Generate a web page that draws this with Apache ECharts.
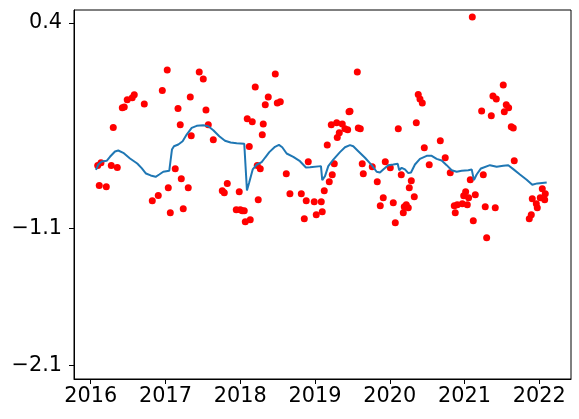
<!DOCTYPE html>
<html>
<head>
<meta charset="utf-8">
<script src="https://cdn.jsdelivr.net/npm/echarts@6/dist/echarts.min.js"></script>
<style>
  html, body { margin: 0; padding: 0; background: #fff; }
  #chart { width: 579px; height: 419px; }
</style>
</head>
<body>
<div id="chart"></div>
<script>
// observations (decimal year, value)
var dotYears = [
  2016.094, 2016.138, 2016.115, 2016.209, 2016.276, 2016.356, 2016.302, 2016.423, 2016.449, 2016.489,
  2016.556, 2016.583, 2016.717, 2017.024, 2016.958, 2017.168, 2017.198, 2017.131, 2017.212, 2017.305,
  2017.038, 2016.904, 2016.824, 2017.065, 2017.238, 2017.332, 2017.452, 2017.506, 2017.542, 2017.573,
  2017.345, 2017.640, 2017.827, 2017.760, 2017.787, 2017.987, 2017.947, 2018.001, 2018.054, 2018.027,
  2018.068, 2018.134, 2018.094, 2018.161, 2018.121, 2018.228, 2018.268, 2018.241, 2018.201, 2018.308,
  2018.295, 2018.335, 2018.375, 2018.469, 2018.496, 2018.536, 2018.616, 2018.665, 2018.817, 2018.883,
  2018.910, 2018.857, 2018.990, 2019.017, 2021.104, 2019.566, 2020.381, 2020.404, 2020.435, 2019.468,
  2019.455, 2019.218, 2019.290, 2019.365, 2019.401, 2019.437, 2019.325, 2019.298, 2019.579, 2019.606,
  2019.164, 2020.114, 2020.355, 2020.462, 2020.676, 2020.742, 2020.528, 2020.809, 2019.258, 2019.231,
  2019.191, 2019.124, 2019.632, 2019.646, 2019.766, 2019.940, 2020.007, 2019.833, 2020.154, 2020.288,
  2020.261, 2020.328, 2019.913, 2019.873, 2020.047, 2020.221, 2020.194, 2020.248, 2020.181, 2020.074,
  2019.084, 2019.097, 2021.229, 2021.358, 2021.380, 2021.425, 2021.518, 2021.558, 2021.590, 2021.532,
  2021.625, 2021.652, 2021.665, 2021.251, 2021.077, 2021.144, 2021.015, 2020.989, 2021.055, 2020.970,
  2021.037, 2020.903, 2020.863, 2020.876, 2021.117, 2021.277, 2021.411, 2021.296, 2022.040, 2022.080,
  2021.906, 2022.013, 2022.072, 2021.960, 2021.973, 2021.893, 2021.866
];
var dotValues = [
  -0.639, -0.620, -0.785, -0.794, -0.639, -0.654, -0.363, -0.219, -0.212, -0.159,
  -0.146, -0.124, -0.190, 0.058, -0.093, -0.224, -0.343, -0.663, -0.736, -0.802,
  -0.802, -0.858, -0.896, -0.984, -0.955, -0.139, 0.043, -0.008, -0.234, -0.343,
  -0.423, -0.452, -0.770, -0.824, -0.838, -0.831, -0.962, -0.962, -0.969, -0.969,
  -1.049, -1.035, -0.299, -0.321, -0.501, -0.639, -0.663, -0.889, -0.066, -0.336,
  -0.416, -0.197, -0.139, 0.029, -0.183, -0.175, -0.700, -0.845, -0.845, -0.896,
  -0.612, -1.028, -0.904, -0.998, 0.444, 0.043, -0.122, -0.154, -0.183, -0.244,
  -0.248, -0.343, -0.328, -0.336, -0.372, -0.379, -0.401, -0.435, -0.365, -0.372,
  -0.489, -0.372, -0.328, -0.510, -0.459, -0.583, -0.634, -0.692, -0.627, -0.707,
  -0.758, -0.824, -0.627, -0.700, -0.649, -0.612, -0.656, -0.758, -0.707, -0.751,
  -0.802, -0.867, -0.875, -0.933, -0.911, -0.926, -0.940, -0.947, -0.984, -1.057,
  -0.904, -0.977, -0.241, -0.277, -0.132, -0.154, -0.052, -0.197, -0.219, -0.248,
  -0.357, -0.365, -0.605, -0.707, -0.743, -0.853, -0.831, -0.860, -0.875, -0.918,
  -0.926, -0.926, -0.933, -0.984, -1.042, -0.940, -0.947, -1.166, -0.809, -0.845,
  -0.882, -0.875, -0.889, -0.918, -0.947, -0.998, -1.028
];

// rolling mean
var lineYears = [
  2016.071, 2016.102, 2016.147, 2016.214, 2016.258, 2016.325, 2016.369, 2016.436, 2016.526, 2016.623,
  2016.682, 2016.740, 2016.802, 2016.869, 2016.917, 2016.971, 2017.051, 2017.067, 2017.087, 2017.114,
  2017.172, 2017.230, 2017.284, 2017.351, 2017.418, 2017.506, 2017.573, 2017.640, 2017.720, 2017.796,
  2017.872, 2017.953, 2018.054, 2018.073, 2018.090, 2018.121, 2018.167, 2018.220, 2018.287, 2018.331,
  2018.389, 2018.465, 2018.518, 2018.562, 2018.621, 2018.710, 2018.799, 2018.879, 2018.933, 2019.080,
  2019.097, 2019.134, 2019.178, 2019.245, 2019.334, 2019.401, 2019.468, 2019.512, 2019.579, 2019.669,
  2019.758, 2019.825, 2019.869, 2019.913, 2019.980, 2020.047, 2020.106, 2020.127, 2020.159, 2020.203,
  2020.248, 2020.284, 2020.337, 2020.404, 2020.494, 2020.561, 2020.627, 2020.694, 2020.761, 2020.828,
  2020.895, 2020.962, 2021.050, 2021.096, 2021.126, 2021.162, 2021.220, 2021.340, 2021.430, 2021.518,
  2021.585, 2021.652, 2021.741, 2021.831, 2021.906, 2021.973, 2022.099
];
var lineValues = [
  -0.671, -0.632, -0.610, -0.605, -0.576, -0.537, -0.530, -0.547, -0.588, -0.625,
  -0.659, -0.698, -0.712, -0.722, -0.705, -0.685, -0.678, -0.676, -0.523, -0.499,
  -0.486, -0.462, -0.414, -0.365, -0.350, -0.346, -0.353, -0.382, -0.426, -0.459,
  -0.472, -0.477, -0.481, -0.481, -0.821, -0.761, -0.668, -0.634, -0.615, -0.583,
  -0.542, -0.503, -0.489, -0.506, -0.552, -0.576, -0.608, -0.654, -0.652, -0.644,
  -0.746, -0.717, -0.644, -0.596, -0.542, -0.506, -0.491, -0.499, -0.535, -0.583,
  -0.637, -0.685, -0.690, -0.668, -0.637, -0.632, -0.627, -0.674, -0.656, -0.668,
  -0.695, -0.690, -0.632, -0.591, -0.569, -0.569, -0.591, -0.603, -0.637, -0.674,
  -0.685, -0.678, -0.674, -0.668, -0.746, -0.705, -0.661, -0.637, -0.649, -0.642,
  -0.637, -0.666, -0.705, -0.743, -0.780, -0.770, -0.763
];

var xTicks = [2016, 2017, 2018, 2019, 2020, 2021, 2022];
var yTicks = [0.4, -1.1, -2.1];

var dots = [];
for (var i = 0; i < dotYears.length; i++) {
    dots.push([dotYears[i], dotValues[i]]);
}
var line = [];
for (var j = 0; j < lineYears.length; j++) {
    line.push([lineYears[j], lineValues[j]]);
}

var labelFont = {
    color: '#000',
    fontFamily: 'DejaVu Sans',
    fontSize: 20.8
};

var myChart = echarts.init(document.getElementById('chart'));
myChart.setOption({
    animation: false,
    backgroundColor: '#fff',
    grid: {
        left: 74, top: 10, right: 8, bottom: 40,
        show: true,
        borderColor: '#000',
        borderWidth: 1
    },
    xAxis: {
        type: 'value',
        min: 2015.777,
        max: 2022.424,
        axisLine: { show: true, onZero: false, lineStyle: { color: '#000', width: 1 } },
        axisTick: { show: true, length: 5, customValues: xTicks, lineStyle: { color: '#000' } },
        axisLabel: Object.assign({
            margin: 7,
            customValues: xTicks,
            formatter: function (v) { return String(v); }
        }, labelFont),
        splitLine: { show: false }
    },
    yAxis: {
        type: 'value',
        min: -2.197,
        max: 0.495,
        axisLine: { show: true, onZero: false, lineStyle: { color: '#000', width: 1 } },
        axisTick: { show: true, length: 5, customValues: yTicks, lineStyle: { color: '#000' } },
        axisLabel: Object.assign({
            margin: 12,
            customValues: yTicks,
            formatter: function (v) { return v.toFixed(1).replace('-', '\u2212'); }
        }, labelFont),
        splitLine: { show: false }
    },
    series: [
        {
            name: 'obs',
            type: 'scatter',
            data: dots,
            symbolSize: 7,
            itemStyle: { color: '#ff0000', opacity: 1 },
            z: 2
        },
        {
            name: 'rolling',
            type: 'line',
            data: line,
            showSymbol: false,
            smooth: false,
            lineStyle: { color: '#1f77b4', width: 2 },
            z: 3
        }
    ]
});
</script>
</body>
</html>
